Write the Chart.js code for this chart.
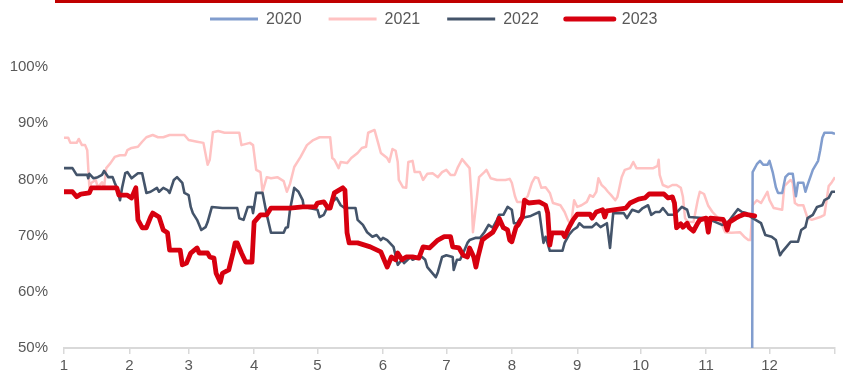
<!DOCTYPE html>
<html>
<head>
<meta charset="utf-8">
<script src="https://cdn.jsdelivr.net/npm/chart.js@4.4.1/dist/chart.umd.min.js"></script>
<style>
  html, body { margin: 0; padding: 0; background: #ffffff; }
  #wrap { position: relative; width: 843px; height: 374px; overflow: hidden; }
  #topbar { position: absolute; left: 55px; right: 0; top: 0; height: 3px; background: #c00000; }
  canvas { position: absolute; left: 0; top: 0; }
</style>
</head>
<body>
<div id="wrap">
  <canvas id="c" width="843" height="374"></canvas>
  <div id="topbar"></div>
</div>
<script>
// ---- tick labels (x axis is day of year; ticks at month starts) ----
const monthStarts = [0, 31, 59, 90, 120, 151, 181, 212, 243, 273, 304, 334, 365];
const monthLabels = ['1','2','3','4','5','6','7','8','9','10','11','12',''];
const yTicks = [50, 60, 70, 80, 90, 100];

const seriesNames = ['2020', '2021', '2022', '2023'];

// ---- 2020 (starts late November) ----
const days2020 = [325.5,326,328,329.5,331,333,334,335.5,337,338,340,341.5,343,345,346.5,347.5,350,351,352,354.5,357,358,359,360,363.5,365];
const vals2020 = [0,81.3,82.7,83.3,82.6,82.6,83.3,81.3,78.6,77.6,77.6,80.4,81.0,81.0,77.0,79.4,79.4,77.8,79.0,81.7,83.3,85.2,87.4,88.3,88.3,88.1];

// ---- 2021 ----
const days2021 = [0,2,3,6,7,8.5,10,11,12,13,15,16,18,19,20,22,24,26.5,29,30,32,35,37,39,42,44.5,47,50,57,59,63,66,68,69,70.5,73,76,83,84,88,89.5,91,93,94,96,98,101,104,105.5,107,109,112,115,118,121,126,127,128,130,131,134,136,139,141,143,144,147,149,150,153,154,155.5,157,158,158.5,160.5,162,163,165,166,168.5,170,172,174.5,177,179,181,183,185,186.5,188.5,190,192,193,193.6,195.5,196.5,199,200,202,205,209,211,212,213.5,214.5,217,219.5,221.5,223,224.5,226,228,230,231.5,235,237,238.5,240,241.5,243,245,247.5,249,250.5,252,253,254.5,256,257.5,259,261,262,264,265.5,268,269.5,271,279,281,281.5,282,283.5,286,288,290,292,293,294,295.5,298,300,301,303,305,307,310.5,313,316,320,322,324,325,325.5,326,328,330,333,334,336,340,341,344,345,346,347.5,350,352,354,358,360,362,363.5,365];
const vals2021 = [87.4,87.4,86.5,86.5,87.2,86.1,86.1,85.2,78.6,79.4,79.9,78.6,79.5,78.6,82.0,82.9,84.0,84.3,84.3,85.2,85.6,85.8,86.7,87.5,87.9,87.5,87.5,87.9,87.9,87.0,86.7,86.5,82.6,83.5,88.4,88.6,88.3,88.3,86.1,86.5,86.1,81.7,81.3,77.8,80.4,80.2,80.4,79.7,77.8,79.2,82.2,84.0,86.1,87.0,87.5,87.5,83.8,83.5,82.0,83.1,82.9,83.8,84.7,85.6,85.8,88.3,88.8,86.1,84.7,83.8,83.1,85.4,85.1,83.1,79.9,78.6,78.5,83.1,83.3,81.3,81.3,79.9,81.0,81.1,80.4,81.3,81.7,80.8,80.8,82.2,83.6,82.9,82.0,76.3,70.6,76.9,80.4,81.3,81.7,80.2,79.9,79.9,80.1,79.4,77.0,76.0,76.0,77.0,79.4,80.4,80.2,78.5,78.6,77.6,75.8,75.4,74.2,72.8,71.9,76.3,75.1,75.4,76.0,77.2,76.9,77.8,80.2,79.0,78.5,77.8,77.2,76.3,76.9,80.4,81.7,82.0,83.1,82.0,82.0,82.4,83.5,80.8,79.0,78.6,79.0,79.0,78.5,76.9,73.1,72.4,72.4,76.3,77.8,77.4,75.3,74.2,72.8,70.6,70.5,70.6,69.8,69.2,69.2,72.4,75.4,76.3,75.8,77.8,76.3,74.9,74.6,78.8,79.9,79.4,75.8,75.4,75.4,73.1,72.8,73.3,73.7,78.8,79.5,80.4];

// ---- 2022 ----
const days2022 = [0,4,6,11,11.5,12,14,16,18,19,21,23,24,25,26.5,27.5,29,30,32,35,37,39,41,44,45,47,49,50,52,53.5,56,57,59,60,61,63,65,67,68,70,75,82,83,85,87,89,89.5,91,94,96,98,104,105,106,107,109,111,113,113.5,116,120,121,123,124.5,126,127,129,131,133,138,139,141.5,143.5,146,148,150,151,153,156,158,160,161,164,165,168,169.5,171,172,174,176,177,179,181,184,184.5,186,187.5,189,191,192,195,197,199,201,203,205,206,208,210,212,213,214.5,216,221,225,227,228,230,236,237,239,241,243,244,246,250,252,254,257,258.5,260,265,266.5,269,272,274,276.5,278,280,282,283.5,286,289,292.5,295,296,304,311.5,314,317,319,321,323,326,330,332,335,337,338,339,340,342,344,347.5,349,351,352,354.5,356.5,359,360,362,363.5,365];
const vals2022 = [82.0,82.0,80.8,80.8,80.2,81.0,80.2,80.4,80.8,81.5,80.4,80.4,79.4,78.5,76.3,78.5,81.1,81.3,80.2,81.1,81.1,77.6,77.8,78.5,77.8,78.5,78.1,77.6,79.9,80.4,79.4,77.6,77.2,75.1,74.0,72.8,71.0,71.5,72.4,75.1,74.9,74.9,73.1,72.8,75.1,75.1,74.0,77.6,77.6,73.7,70.5,70.5,71.4,71.5,74.6,78.5,77.8,76.3,75.1,74.9,74.6,73.3,73.7,74.9,74.9,76.0,76.7,75.4,74.9,74.9,72.8,71.9,70.6,69.8,70.1,69.2,69.6,69.2,68.0,64.8,65.7,65.1,66.2,65.7,66.2,66.2,65.7,64.4,63.5,62.6,63.5,66.2,66.5,66.2,63.9,65.7,65.7,66.9,68.7,69.2,69.6,69.6,70.6,71.9,71.4,72.8,73.7,73.7,75.1,74.6,72.2,72.2,73.1,73.5,74.2,68.7,69.8,67.3,67.3,68.7,70.1,71.0,71.5,72.2,71.5,71.5,72.2,71.5,72.2,67.8,74.0,74.0,73.1,74.6,74.2,74.9,75.4,73.7,74.2,74.2,74.9,73.7,73.7,75.1,74.6,73.3,73.1,71.9,72.2,73.7,74.7,74.2,74.0,73.1,72.2,70.1,69.8,69.2,67.8,66.5,67.1,68.0,68.9,68.9,71.0,71.5,73.1,73.7,75.1,75.4,76.3,76.7,77.8,77.8];

// ---- 2023 (ends late November) ----
const days2023 = [0,4,6,8,12,13,25,26,30,32,34,35,37,39,41,42,45,47,49,50,55,56,58,60,63,64,68,69,71,72,74,75,78,80,81,82,84,86,89,90,93,96,98,107,113,119,120,123,125,126,128,132,133,134,135,139,145,150,151,153,155,157,158,160,162,165,168,170,173,177,180,183,184,187,189,191,192,194,195,196,198,200,203,205,206,208,210,211,212,214,215,217,218,220,225,228,229,230,231,236,237,239,241,243,249,250,252,255,256,257,266,268,272,275,277,284,286,288,289,290,292,293,295,296,298,300,301,304,305,306,312,313,314,315,318,320,322,327];
const vals2023 = [77.8,77.8,76.9,77.4,77.6,78.5,78.5,77.2,77.2,76.7,78.5,72.8,71.4,71.4,73.3,74.0,73.3,71.0,70.5,67.4,67.4,64.8,65.1,66.9,67.8,66.9,66.9,66.2,66.0,63.3,61.7,63.3,63.9,66.9,68.7,68.7,66.9,65.3,65.3,72.4,73.7,73.7,74.9,74.9,75.1,75.1,75.8,76.0,74.9,74.9,77.6,78.5,78.1,70.5,68.7,68.7,68.0,67.1,66.2,64.4,66.2,65.7,66.9,65.7,66.2,66.2,66.0,68.0,67.8,69.2,69.8,69.8,68.0,67.8,66.5,66.2,67.8,66.2,64.4,66.2,69.2,69.8,70.6,71.9,73.1,71.4,71.0,69.2,68.9,71.5,71.9,73.3,76.3,75.8,76.0,75.4,74.0,68.3,70.5,70.5,69.8,71.4,72.8,73.8,73.8,73.1,74.2,74.6,73.3,74.4,74.9,75.8,76.5,76.7,77.4,77.4,76.7,76.9,75.8,71.4,72.1,71.5,72.2,71.4,70.8,72.2,72.8,73.1,70.6,73.1,72.9,72.2,71.0,72.4,73.1,73.5,73.8,73.5];

const pts = (xs, ys) => xs.map((x, i) => ({ x: x, y: ys[i] }));

const FONT = "'Liberation Sans', Arial, sans-serif";
const TXT = '#595959';

const lineLegend = {
  id: 'lineLegend',
  afterDraw(chart, args, opts) {
    const ctx = chart.ctx;
    ctx.save();
    ctx.font = opts.fontSize + 'px ' + FONT;
    ctx.textBaseline = 'middle';
    ctx.textAlign = 'left';
    let x = opts.x;
    seriesNames.forEach((name, i) => {
      const ds = chart.data.datasets.find(d => d.label === name);
      ctx.strokeStyle = ds.borderColor;
      ctx.lineWidth = opts.widths[i];
      ctx.lineCap = ds.borderCapStyle || 'butt';
      ctx.beginPath();
      ctx.moveTo(x, opts.y);
      ctx.lineTo(x + opts.sample, opts.y);
      ctx.stroke();
      x += opts.sample + opts.gap;
      ctx.fillStyle = TXT;
      ctx.fillText(name, x, opts.y + 1);
      x += ctx.measureText(name).width + opts.spacing;
    });
    ctx.restore();
  }
};

new Chart(document.getElementById('c'), {
  type: 'line',
  data: {
    datasets: [
      { label: '2020', data: pts(days2020, vals2020), borderColor: '#819dce', borderWidth: 2.5, order: 2 },
      { label: '2021', data: pts(days2021, vals2021), borderColor: '#ffc2c2', borderWidth: 2.5, order: 3 },
      { label: '2022', data: pts(days2022, vals2022), borderColor: '#44546a', borderWidth: 2.6, order: 1 },
      { label: '2023', data: pts(days2023, vals2023), borderColor: '#d7000f', borderWidth: 4.8, order: 0, borderCapStyle: 'round' }
    ]
  },
  options: {
    responsive: false,
    animation: false,
    devicePixelRatio: 1,
    elements: {
      point: { radius: 0, hoverRadius: 0 },
      line: { tension: 0, fill: false, borderJoinStyle: 'round' }
    },
    layout: { padding: { top: 67, right: 8, bottom: 0, left: 0 } },
    plugins: {
      legend: { display: false },
      tooltip: { enabled: false },
      lineLegend: { x: 210, y: 19, sample: 48, gap: 8, spacing: 27, fontSize: 16, widths: [3, 3, 3, 5] }
    },
    scales: {
      x: {
        type: 'linear',
        min: 0,
        max: 365,
        afterBuildTicks: s => { s.ticks = monthStarts.map(v => ({ value: v })); },
        afterFit: s => { s.height = 26; },
        ticks: {
          autoSkip: false,
          maxRotation: 0,
          padding: 3,
          color: TXT,
          font: { family: FONT, size: 15 },
          callback: (v, i) => monthLabels[i]
        },
        grid: { display: true, drawOnChartArea: false, drawTicks: true, tickLength: 6, color: '#d9d9d9', lineWidth: 1.5 },
        border: { display: true, color: '#d9d9d9', width: 2 }
      },
      y: {
        min: 50,
        max: 100,
        afterBuildTicks: s => { s.ticks = yTicks.map(v => ({ value: v })); },
        afterFit: s => { s.width = 64; },
        ticks: {
          padding: 16,
          color: TXT,
          font: { family: FONT, size: 15 },
          callback: v => v + '%'
        },
        grid: { display: false, drawTicks: false },
        border: { display: false }
      }
    }
  },
  plugins: [lineLegend]
});
</script>
</body>
</html>
